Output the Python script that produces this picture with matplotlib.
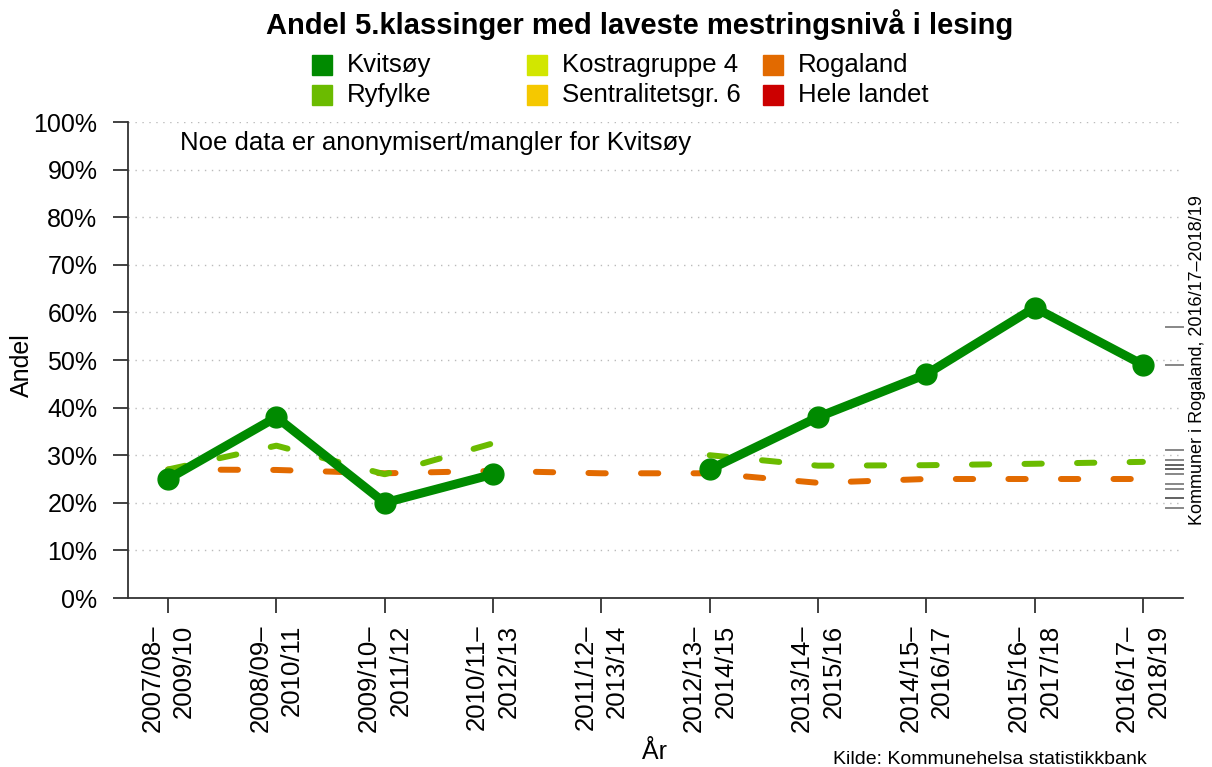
import numpy as np
import matplotlib.pyplot as plt
from matplotlib.patches import Rectangle
import matplotlib.transforms as mtransforms

plt.rcParams['font.family'] = ['Liberation Sans', 'DejaVu Sans']

periods = ['2007/08–\n2009/10', '2008/09–\n2010/11', '2009/10–\n2011/12', '2010/11–\n2012/13',
           '2011/12–\n2013/14', '2012/13–\n2014/15', '2013/14–\n2015/16', '2014/15–\n2016/17',
           '2015/16–\n2017/18', '2016/17–\n2018/19']
kvitsoy = [25, 38, 20, 26, np.nan, 27, 38, 47, 61, 49]
ryfylke = [27, 32, 26, 32.5, np.nan, 30, 27.8, 27.9, 28.2, 28.6]
rogaland = [27, 26.9, 26.2, 26.7, 26.2, 26.2, 24.2, 25, 25, 25]
# kommuner i Rogaland, siste periode (rug til høyre)
kommuner = [57, 49, 31, 29, 28, 28, 27, 27, 26, 24, 23, 21, 21, 19]

legend_names = ['Kvitsøy', 'Ryfylke', 'Kostragruppe 4', 'Sentralitetsgr. 6', 'Rogaland', 'Hele landet']
legend_cols = ['#008A00', '#6BBB00', '#D2E600', '#F5C800', '#E26A00', '#CC0000']

fig = plt.figure(figsize=(12.12, 7.67), dpi=100)
ax = fig.add_axes([128/1212, 1-598/767, (1183-128)/1212, (598-122)/767])

x = np.arange(1, len(periods)+1)

ax.plot(x, rogaland, color='#E26A00', lw=4.3, dashes=(2.9, 5.9), dash_capstyle='round', zorder=3)
ax.plot(x, ryfylke, color='#6BBB00', lw=4.3, dashes=(2.9, 5.9), dash_capstyle='round', zorder=4)
ax.plot(x, kvitsoy, color='#008A00', lw=6.5, marker='o', markersize=15,
        solid_capstyle='round', solid_joinstyle='round', zorder=5)

trans = mtransforms.blended_transform_factory(ax.transAxes, ax.transData)
for v in kommuner:
    ax.plot([0.984, 1.0], [v, v], color='#555555', lw=1.4, alpha=0.7, transform=trans,
            clip_on=False, zorder=2)

ax.set_xlim(0.63, 10.37)
ax.set_ylim(0, 100)
ax.set_yticks(np.arange(0, 101, 10))
ax.set_yticklabels([f'{v}%' for v in range(0, 101, 10)], fontsize=18)
ax.set_xticks(x)
ax.set_xticklabels(periods, rotation=90, fontsize=18.5, ha='center', va='top',
                   multialignment='right', linespacing=1.4)
for yv in range(10, 101, 10):
    ax.axhline(yv, color='#BBBBBB', lw=1, ls=(0, (1, 4)), zorder=1)

for s in ['top', 'right']:
    ax.spines[s].set_visible(False)
for s in ['left', 'bottom']:
    ax.spines[s].set_color('#333333')
    ax.spines[s].set_linewidth(1.3)
ax.tick_params(axis='both', length=11, width=1.3, color='#333333')
ax.tick_params(axis='y', pad=11)
ax.tick_params(axis='x', pad=8)

fig.text(22/1212, 1-365/767, 'Andel', fontsize=18, rotation=90, ha='center', va='center')
fig.text(655/1212, 1-752/767, 'År', fontsize=18, ha='center', va='center')
fig.text(833/1212, 1-760/767, 'Kilde: Kommunehelsa statistikkbank', fontsize=14,
         ha='left', va='center')
fig.text(180/1212, 1-143/767, 'Noe data er anonymisert/mangler for Kvitsøy', fontsize=18.5,
         ha='left', va='center')
fig.text(1197/1212, 1-360/767, 'Kommuner i Rogaland, 2016/17–2018/19', fontsize=13,
         rotation=90, ha='center', va='center')

fig.text(640/1212, 1-25/767, 'Andel 5.klassinger med laveste mestringsnivå i lesing',
         fontsize=21, fontweight='bold', ha='center', va='center')

sq_x = [322, 322, 537, 537, 773, 773]
sq_y = [65, 95, 65, 95, 65, 95]
for name, col, sx, sy in zip(legend_names, legend_cols, sq_x, sq_y):
    fig.add_artist(Rectangle(((sx-10)/1212, 1-(sy+10)/767), 20/1212, 20/767,
                             transform=fig.transFigure, color=col))
    fig.text((sx+25)/1212, 1-sy/767, name, fontsize=18.5, ha='left', va='center')

fig.savefig('out.png', dpi=100)
